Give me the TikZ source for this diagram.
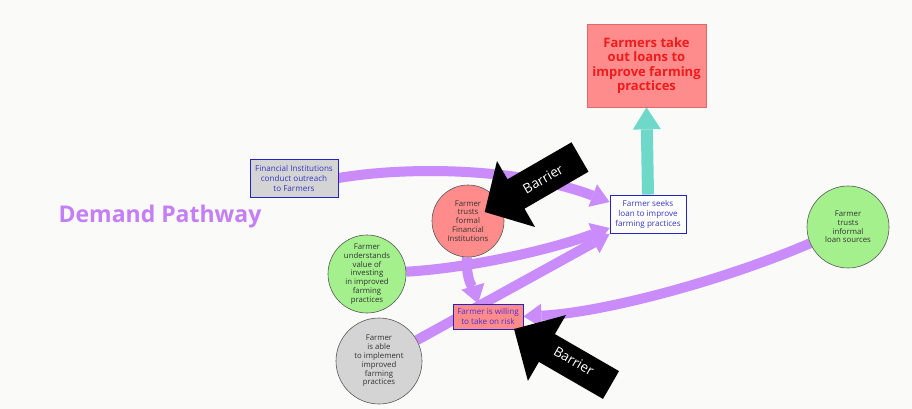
\documentclass[tikz,border=0pt]{standalone}
\usepackage{fontspec}
\setmainfont{Open Sans}
\usetikzlibrary{arrows.meta}
\pgfdeclarelayer{bg}
\pgfdeclarelayer{links}
\pgfsetlayers{bg,links,main}

\definecolor{bgcol}{HTML}{FAFAF8}
\definecolor{lilac}{HTML}{C98CFA}
\definecolor{titlecol}{HTML}{C47EF6}
\definecolor{salmon}{HTML}{FF8B8B}
\definecolor{mint}{HTML}{A4F08C}
\definecolor{greyfill}{HTML}{D4D4D4}
\definecolor{edgeblue}{HTML}{2323C8}
\definecolor{textblue}{HTML}{3434C4}
\definecolor{riskblue}{HTML}{4A2ED8}
\definecolor{aqua}{HTML}{6FD9C9}
\definecolor{goalred}{HTML}{EE1C1C}
\definecolor{goalfill}{HTML}{FF8C8C}
\definecolor{goaledge}{HTML}{E06A6A}

\tikzset{
  box/.style={draw=edgeblue, line width=0.9pt, align=center, text=textblue,
    font=\fontsize{8.1}{10}\selectfont, inner sep=2pt},
  circ/.style={circle, draw=black!65, line width=0.6pt, align=center,
    text=black!80, font=\fontsize{7.8}{8.8}\selectfont, inner sep=0pt},
  conn/.style={draw=lilac, line width=10pt,
    -{Triangle[width=24pt,length=18pt,line width=0pt]}},
  lift/.style={draw=aqua, line width=12pt,
    -{Triangle[width=28pt,length=22pt,line width=0pt]}},
  barrier/.style={fill=black},
  barrierlabel/.style={text=white, font=\fontsize{13.5}{13.5}\selectfont, inner sep=0pt},
}

\begin{document}
\begin{tikzpicture}[x=1pt,y=-1pt]
  \begin{pgfonlayer}{bg}
    \fill[bgcol] (0,0) rectangle (912,409);
  \end{pgfonlayer}
  \useasboundingbox (0,0) rectangle (912,409);

  % title
  \node[text=titlecol, font=\fontsize{23}{23}\selectfont\bfseries] (title) at (160,217) {Demand Pathway};

  % goal
  \node[draw=goaledge, line width=0.7pt, fill=goalfill, text=goalred, align=center,
        minimum width=119pt, minimum height=83pt, inner sep=0pt,
        font=\fontsize{13}{14.5}\selectfont\bfseries] (goal) at (646.5,65.5)
        {Farmers take\\out loans to\\improve farming\\practices};

  % boxes
  \node[box, fill=greyfill, minimum width=88pt, minimum height=38pt] (outreach) at (294,178)
        {Financial Institutions\\conduct outreach\\to Farmers};
  \node[box, fill=white, minimum width=76pt, minimum height=38pt] (seeks) at (648,214)
        {Farmer seeks\\loan to improve\\farming practices};
  \node[box, fill=salmon, text=riskblue, minimum width=70pt, minimum height=25pt] (willing) at (488,316.5)
        {Farmer is willing\\to take on risk};

  % circles
  \node[circ, fill=salmon, minimum size=72pt] (trust) at (468,221)
        {Farmer\\trusts\\formal\\Financial\\Institutions};
  \node[circ, fill=mint, minimum size=78pt] (understands) at (367,274)
        {Farmer\\understands\\value of\\investing\\in improved\\farming\\practices};
  \node[circ, fill=greyfill, minimum size=86pt] (able) at (379,361)
        {Farmer\\is able\\to implement\\improved\\farming\\practices};
  \node[circ, fill=mint, minimum size=82pt] (informal) at (848,227)
        {Farmer\\trusts\\informal\\loan sources};

  % connectors
  \begin{pgfonlayer}{links}
    \draw[conn] (outreach.east) .. controls (410,166) and (520,168) .. ([yshift=12pt]seeks.west);
    \draw[conn] (understands) .. controls (470,268) and (550,250) .. ([yshift=-14pt]seeks.west);
    \draw[conn] (able) -- ([yshift=-20pt]seeks.west);
    \draw[conn] (trust) .. controls (466,282) and (474,290) .. ([xshift=-10pt]willing.north);
    \draw[conn] (informal) .. controls (720,282) and (600,313) .. (willing.east);
    \draw[lift] (seeks.north) -- (goal.south);
  \end{pgfonlayer}

  % barriers
  \fill[barrier] (571.5,142.3) -- (588.5,171.7) -- (524.5,208.7) -- (535,227)
    -- (484.7,212) -- (497,161) -- (507.5,179.3) -- cycle;
  \node[barrierlabel, rotate=30] (barrierA) at (543,179) {Barrier};

  \fill[barrier] (619,371.1) -- (554.9,334.1) -- (565.9,315.1) -- (514,329)
    -- (527.9,380.9) -- (538.9,361.9) -- (603,398.9) -- cycle;
  \node[barrierlabel, rotate=-30] (barrierB) at (574,361) {Barrier};
\end{tikzpicture}
\end{document}
